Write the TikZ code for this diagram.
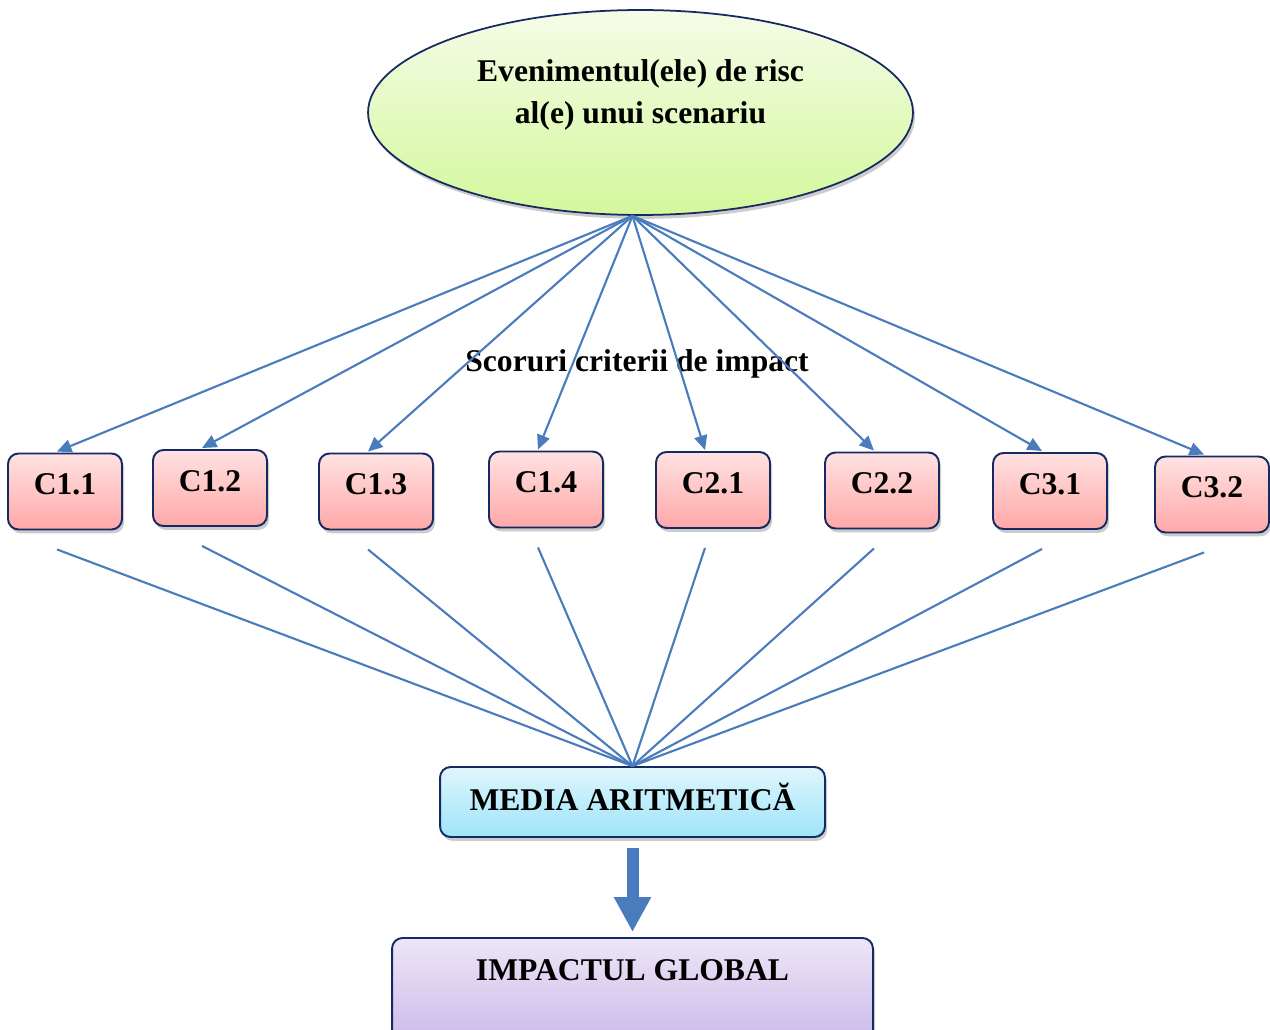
\documentclass[tikz,border=0pt]{standalone}
\usepackage{fontspec}
\setmainfont{Liberation Serif}
\usetikzlibrary{arrows.meta,positioning,shapes.geometric,shadows,calc}
\definecolor{navyline}{RGB}{22,42,98}
\definecolor{linkblue}{RGB}{74,124,189}
\definecolor{greentop}{RGB}{245,252,232}
\definecolor{greenbot}{RGB}{212,248,156}
\definecolor{pinktop}{RGB}{255,226,226}
\definecolor{pinkbot}{RGB}{255,168,168}
\definecolor{cyantop}{RGB}{224,246,253}
\definecolor{cyanbot}{RGB}{158,228,250}
\definecolor{lilactop}{RGB}{237,230,247}
\definecolor{lilacbot}{RGB}{192,170,228}

\begin{document}
\begin{tikzpicture}[x=0.02cm,y=-0.02cm,
  every node/.style={font=\fontsize{18}{24}\selectfont\bfseries},
  shade/.style={drop shadow={shadow xshift=1.2pt,shadow yshift=-2.2pt,fill=black!40}},
  event/.style={ellipse,draw=navyline,line width=1pt,top color=greentop,bottom color=greenbot,minimum width=10.9cm,minimum height=4.1cm,align=center,shade},
  crit/.style={draw=navyline,line width=1.1pt,rounded corners=6pt,top color=pinktop,bottom color=pinkbot,minimum width=2.28cm,minimum height=1.52cm,text depth=0.28cm,shade},
  result/.style={draw=navyline,line width=1.1pt,rounded corners=6pt,shade},
  arrow/.style={-{Triangle[length=2.9mm,width=2.6mm]},linkblue,line width=1.2pt},
  link/.style={linkblue,line width=1.2pt},
  bigarrow/.style={-{Triangle[length=7mm,width=7mm]},linkblue,line width=0.24cm}
]
\useasboundingbox (0,0) rectangle (1270,1030);

\node[event] (ev) at (640.5,112.5) {Evenimentul(ele) de risc\\al(e) unui scenariu\\~};
\coordinate (hub) at ($(ev.south)+(-8,0)$);

% criteriile de impact
\node[crit] (c11) at (65,491.5) {C1.1};
\node[crit] (c12) at (210,488) {C1.2};
\node[crit] (c13) at (376,491.5) {C1.3};
\node[crit] (c14) at (546,489.5) {C1.4};
\node[crit] (c21) at (713,490) {C2.1};
\node[crit] (c22) at (882,490.5) {C2.2};
\node[crit] (c31) at (1050,491) {C3.1};
\node[crit] (c32) at (1212,494.5) {C3.2};

\node (scores) at (637,364) {Scoruri criterii de impact};

\node[result,top color=cyantop,bottom color=cyanbot,minimum width=7.7cm,minimum height=1.4cm,text depth=0.2cm] (media) at (632.5,802) {MEDIA ARITMETICĂ};
\node[result,top color=lilactop,bottom color=lilacbot,minimum width=9.62cm,text height=0.5cm,text depth=1.6cm,inner ysep=0.36cm,anchor=north] (impact) at (632.5,937) {IMPACTUL GLOBAL};

\foreach \n in {c11,c12,c13,c14,c21,c22,c31,c32}{
  \draw[arrow] (hub) -- ($(\n.north)+(-8,-1)$);
  \draw[link] ($(\n.south)+(-8,19)$) -- (media.north);
}
\draw[bigarrow,shorten <=0.2cm,shorten >=0.1cm] (media.south) -- (impact.north);
\end{tikzpicture}
\end{document}
